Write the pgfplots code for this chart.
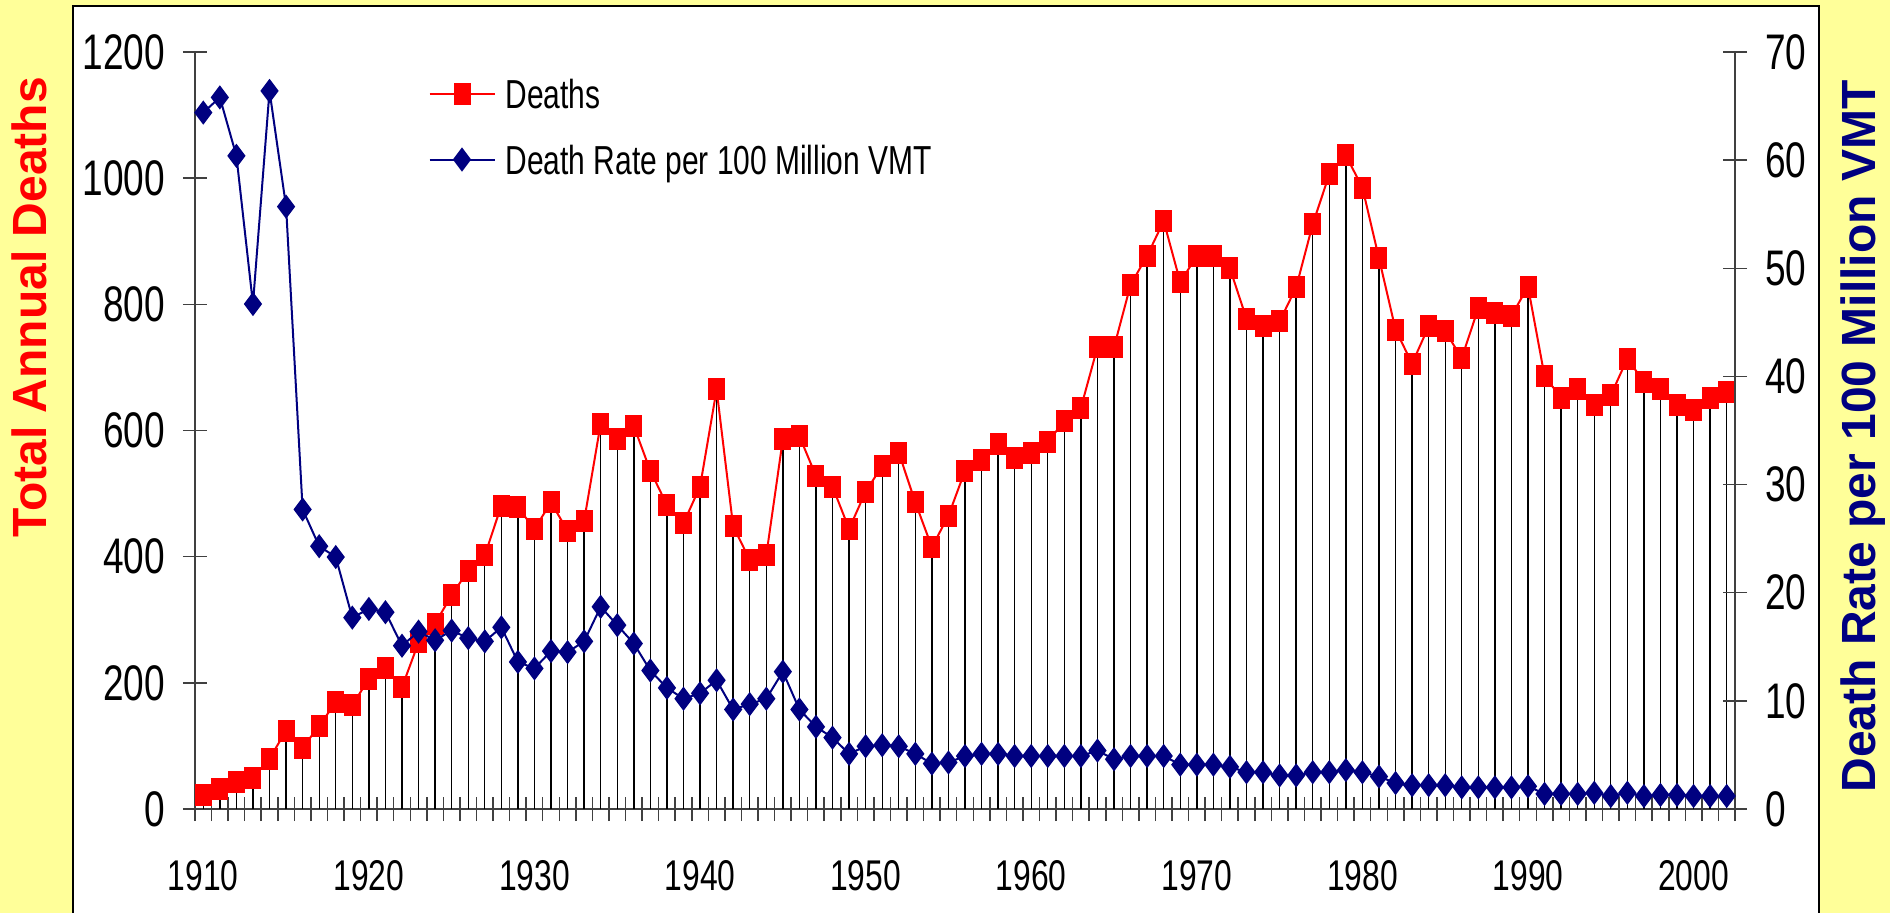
\documentclass[border=0pt]{standalone}
\usepackage{fontspec}
\setmainfont{Liberation Sans}
\newfontfamily\nar[FakeStretch=0.74]{Liberation Sans}
\usepackage{pgfplots}
\usepackage{pgfplotstable}
\pgfplotsset{compat=1.18}
\definecolor{bgy}{HTML}{FFFF99}
\definecolor{dred}{HTML}{FF0000}
\definecolor{navyb}{HTML}{000080}

\pgfplotstableread{
year deaths rate
1910 22 64.4
1911 31 65.8
1912 43 60.4
1913 49 46.7
1914 80 66.4
1915 124 55.7
1916 97 27.7
1917 132 24.3
1918 169 23.3
1919 165 17.7
1920 206 18.5
1921 223 18.2
1922 193 15.1
1923 264 16.4
1924 294 15.6
1925 339 16.5
1926 378 15.8
1927 402 15.5
1928 481 16.8
1929 478 13.6
1930 444 13.0
1931 486 14.6
1932 441 14.5
1933 457 15.5
1934 611 18.7
1935 586 17.0
1936 607 15.3
1937 536 12.8
1938 482 11.2
1939 453 10.2
1940 511 10.7
1941 665 11.9
1942 448 9.2
1943 395 9.7
1944 402 10.2
1945 586 12.7
1946 591 9.2
1947 528 7.6
1948 511 6.6
1949 444 5.1
1950 503 5.8
1951 544 5.9
1952 565 5.8
1953 486 5.1
1954 415 4.2
1955 465 4.3
1956 536 4.9
1957 553 5.1
1958 578 5.1
1959 557 4.9
1960 565 4.9
1961 582 4.9
1962 615 4.9
1963 636 4.9
1964 732 5.4
1965 732 4.6
1966 831 4.9
1967 877 4.9
1968 932 4.9
1969 835 4.1
1970 877 4.1
1971 877 4.1
1972 857 3.9
1973 777 3.4
1974 765 3.4
1975 773 3.1
1976 827 3.1
1977 927 3.4
1978 1006 3.4
1979 1036 3.6
1980 985 3.4
1981 873 3.0
1982 760 2.4
1983 706 2.2
1984 765 2.2
1985 757 2.2
1986 715 2.0
1987 794 2.0
1988 786 2.0
1989 782 2.0
1990 828 2.1
1991 686 1.4
1992 652 1.4
1993 665 1.4
1994 640 1.5
1995 656 1.2
1996 714 1.5
1997 677 1.2
1998 665 1.3
1999 640 1.3
2000 632 1.2
2001 652 1.2
2002 661 1.2
}\data

\pgfplotsset{
  common/.style={
    at={(78bp,41.6bp)}, anchor=south west,
    scale only axis, width=616bp, height=302.8bp,
    xmin=1909.5, xmax=2002.5, clip=false,
    tick align=center,
    major tick length=9.6bp, minor tick length=9.6bp,
    every tick/.style={black!75, line width=0.6bp},
    axis line style={black!75, line width=0.6bp},
    /pgf/number format/.cd, 1000 sep={}, assume math mode=true,
  },
}

\begin{document}
\begin{tikzpicture}
\useasboundingbox (0,0) rectangle (756bp,365.2bp);
\fill[bgy] (0,0) rectangle (756bp,365.2bp);
\filldraw[fill=white, draw=black, line width=0.8bp] (29.2bp,-5bp) rectangle (727.6bp,362.8bp);

\begin{axis}[common,
  ymin=0, ymax=1200,
  axis lines*=left,
  xtick={1910,1920,...,2000},
  major x tick style={draw=none},
  minor xtick={1909.5,1910.5,...,2002.5},
  ytick={0,200,...,1200},
  xticklabel style={font=\nar\fontsize{17.2bp}{17.2bp}\selectfont, inner sep=0pt, anchor=north, yshift=-15.5bp},
  yticklabel style={font=\nar\fontsize{20bp}{20bp}\selectfont, inner sep=0pt, anchor=east, xshift=-7bp},
  ylabel={Total Annual Deaths},
  ylabel style={font=\bfseries\fontsize{19.2bp}{19.2bp}\selectfont, text=dred, at={(axis description cs:-0.1078,0.6625)}, anchor=center},
]
\addplot[ycomb, black, line width=0.55bp, mark=none] table[x=year, y=deaths]{\data};
\addplot[dred, line width=0.8bp, mark=square*, mark size=4bp, mark options={xscale=0.75, solid, fill=dred, draw=dred}] table[x=year, y=deaths]{\data};
\end{axis}

\begin{axis}[common,
  ymin=0, ymax=70,
  axis x line=none, axis y line*=right,
  ytick={0,10,...,70},
  yticklabel style={font=\nar\fontsize{20bp}{20bp}\selectfont, inner sep=0pt, anchor=west, xshift=7bp},
  ylabel={Death Rate per 100 Million VMT},
  ylabel style={font=\bfseries\fontsize{19.2bp}{19.2bp}\selectfont, text=navyb, at={(axis description cs:1.0831,0.4921)}, anchor=center},
  legend cell align=left,
  legend image code/.code={\draw[mark repeat=2, mark phase=2, #1] plot coordinates {(0bp,0bp) (13bp,0bp) (26bp,0bp)};},
  legend style={draw=none, fill=none, inner sep=0pt, column sep=4bp, row sep=0pt,
    at={(axis description cs:0.1513,0.9894)}, anchor=north west,
    font=\nar\fontsize{16.2bp}{16.2bp}\selectfont,
    nodes={inner sep=0pt, text height=19bp, text depth=7.4bp}},
]
\addlegendimage{dred, line width=0.8bp, mark=square*, mark size=4bp, mark options={xscale=0.75, solid, fill=dred, draw=dred}}
\addlegendentry{Deaths}
\addplot[navyb, line width=0.8bp, mark=diamond*, mark size=4.2bp, mark options={solid, fill=navyb, draw=navyb}] table[x=year, y=rate]{\data};
\addlegendentry{Death Rate per 100 Million VMT}
\end{axis}
\end{tikzpicture}
\end{document}
